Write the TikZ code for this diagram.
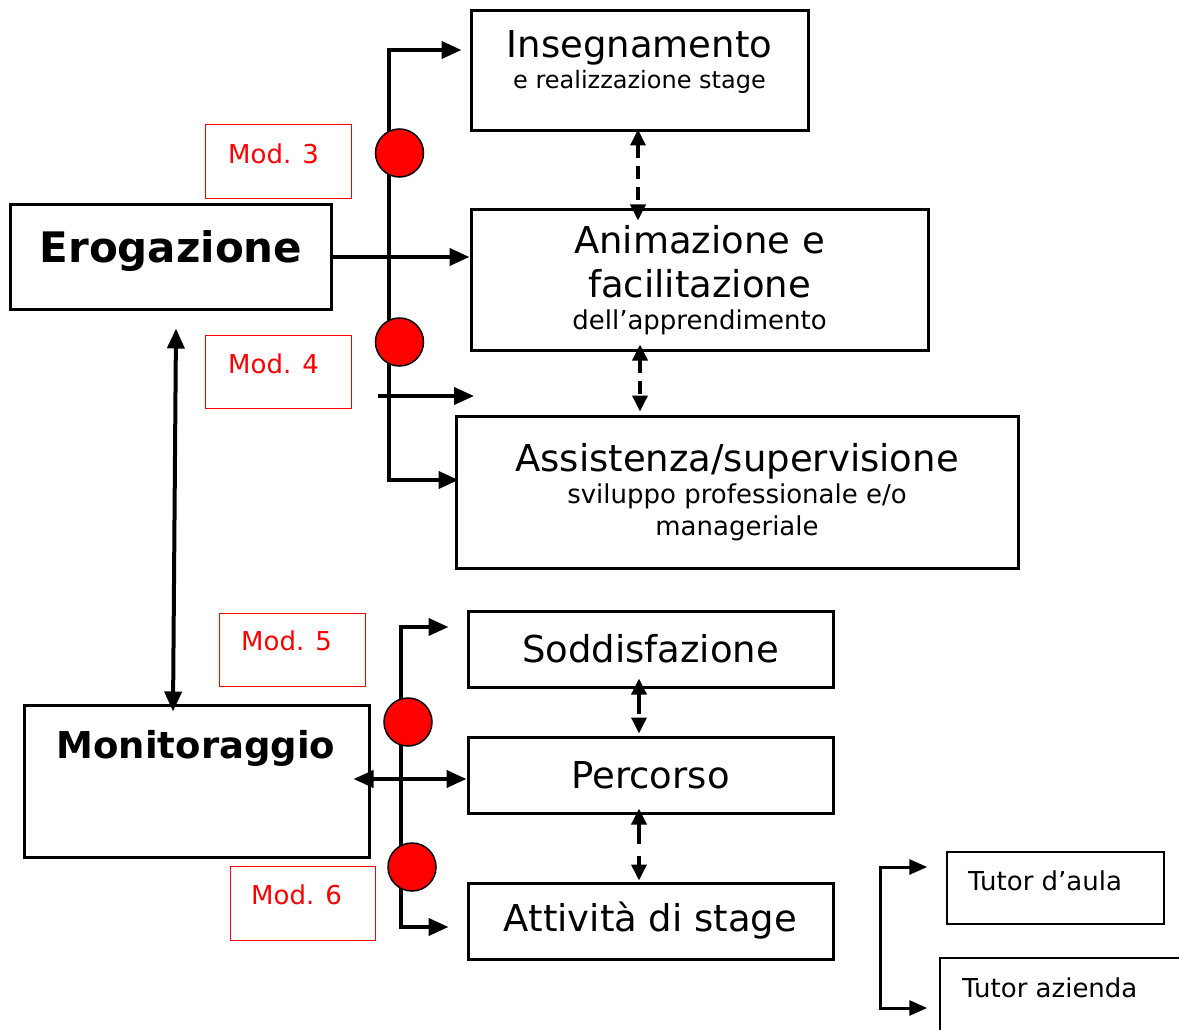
\documentclass[tikz,border=0pt]{standalone}
\usepackage{fontspec}
\setmainfont{DejaVu Sans}
\usetikzlibrary{arrows.meta}

\newcommand{\subtxt}{\fontsize{26}{32}\selectfont}

\begin{document}
\begin{tikzpicture}[x=1pt,y=-1pt,
	box/.style={draw,line width=3pt,inner sep=0pt},
	tbox/.style={draw,line width=1.5pt,inner sep=0pt},
	modbox/.style={draw=red,line width=1pt,inner sep=0pt},
	modtxt/.style={text=red,font=\subtxt,anchor=west,inner sep=0pt},
	main/.style={font=\fontsize{37}{44}\selectfont,align=center},
	bold/.style={font=\fontsize{42}{48}\selectfont\bfseries,anchor=base,inner sep=0pt},
	dot/.style={circle,draw,line width=1.5pt,fill=red,minimum size=48pt,inner sep=0pt},
	bus/.style={line width=4pt,-{Triangle[length=20pt,width=17pt]}},
	dbus/.style={line width=4pt,{Triangle[length=20pt,width=17pt]}-{Triangle[length=20pt,width=17pt]}},
	link/.style={line width=3.5pt,dash pattern=on 13pt off 8pt,{Triangle[length=16pt,width=15pt]}-{Triangle[length=16pt,width=15pt]}},
	link2/.style={line width=3.5pt,dash pattern=on 20pt off 12pt,{Triangle[length=16pt,width=15pt]}-{Triangle[length=16pt,width=15pt]}},
	tlink/.style={line width=3pt,-{Triangle[length=18pt,width=15pt]}}
]
	\clip (0,0) rectangle (1179,1030);

	% erogazione
	\node[box,minimum width=337pt,minimum height=120pt] (ins) at (639.5,71) {};
	\node[main] (ins-t) at (639.5,62) {Insegnamento\\[-13pt]{\fontsize{24}{30}\selectfont e realizzazione stage}};
	\node[box,main,minimum width=457pt,minimum height=140pt] (ani) at (699.5,280)
		{Animazione e\\facilitazione\\[-12pt]{\subtxt dell’apprendimento}};
	\node[box,main,minimum width=562pt,minimum height=152pt] (ass) at (737,492)
		{Assistenza/supervisione\\[-12pt]{\subtxt sviluppo professionale e/o}\\[-12pt]{\subtxt manageriale}};
	\node[box,minimum width=321pt,minimum height=104pt] (ero) at (170.5,257) {};
	\node[bold] (ero-t) at (171,262) {Erogazione};

	% monitoraggio
	\node[box,minimum width=345pt,minimum height=152pt] (mon) at (196.5,781) {};
	\node[bold,font=\fontsize{37}{42}\selectfont\bfseries] (mon-t) at (196,758) {Monitoraggio};
	\node[box,main,minimum width=365pt,minimum height=76pt] (sod) at (650.5,649) {Soddisfazione};
	\node[box,main,minimum width=365pt,minimum height=76pt] (per) at (650.5,775) {Percorso};
	\node[box,main,minimum width=365pt,minimum height=76pt] (att) at (650.5,921) {Attività di stage};

	% tutor
	\node[tbox,minimum width=217pt,minimum height=72pt] (tda) at (1055.5,888) {};
	\node[modtxt,text=black] (tda-t) at (968,881) {Tutor d’aula};
	\node[tbox,minimum width=300pt,minimum height=102pt] (taz) at (1090,1009) {};
	\node[modtxt,text=black] (taz-t) at (962,988) {Tutor azienda};

	% moduli
	\node[modbox,minimum width=146pt,minimum height=74pt] (m3) at (278,162) {};
	\node[modtxt] (m3-t) at (228,154) {Mod. 3};
	\node[modbox,minimum width=146pt,minimum height=73pt] (m4) at (278,371.5) {};
	\node[modtxt] (m4-t) at (228,364) {Mod. 4};
	\node[modbox,minimum width=146pt,minimum height=73pt] (m5) at (292,649.5) {};
	\node[modtxt] (m5-t) at (241,641) {Mod. 5};
	\node[modbox,minimum width=145pt,minimum height=74pt] (m6) at (302.5,903) {};
	\node[modtxt] (m6-t) at (251,895) {Mod. 6};

	% linee
	\coordinate (b1t) at (389,50);
	\coordinate (b1b) at (389,480);
	\draw[bus] (b1b) -- (b1t) -- ([xshift=-8pt]b1t -| ins.west);
	\draw[bus] (b1t) -- (b1b) -- ([xshift=4pt]b1b -| ass.west);
	\draw[bus] ([xshift=-3pt]ero.east) -- (ero.east -| ani.west);
	\coordinate (f1) at (378,396);
	\coordinate (f2) at (474,396);
	\draw[bus] (f1) -- (f2);
	\draw[dbus] ([xshift=5.5pt,yshift=-18pt]ero.south) -- ([xshift=-23.5pt,yshift=-8pt]mon.north);

	\coordinate (b2t) at (401,627);
	\coordinate (b2b) at (401,927);
	\draw[bus] (b2b) -- (b2t) -- ([xshift=-18pt]b2t -| sod.west);
	\draw[bus] (b2t) -- (b2b) -- ([xshift=-18pt]b2b -| att.west);
	\draw[dbus] ([xshift=-17pt,yshift=-4pt]mon.east |- per.west) -- ([yshift=-4pt]per.west);

	\draw[link,shorten <=-3pt,shorten >=-12pt] ([xshift=-1.5pt]ins.south) -- ([xshift=-1.5pt]ins.south |- ani.north);
	\draw[link,shorten <=-7pt,shorten >=3pt] ([xshift=0.5pt]ins.south |- ani.south) -- ([xshift=0.5pt]ins.south |- ass.north);
	\draw[link2,shorten <=-10pt,shorten >=2pt] ([xshift=-11.5pt]sod.south) -- ([xshift=-11.5pt]per.north);
	\draw[link2,shorten <=-6pt,shorten >=1pt] ([xshift=-11.5pt]per.south) -- ([xshift=-11.5pt]att.north);

	\coordinate (tb1) at (880,867);
	\coordinate (tb2) at (880,1008);
	\draw[tlink] (tb2) -- (tb1) -- ([xshift=-19pt]tb1 -| tda.west);
	\draw[tlink] (tb1) -- (tb2) -- ([xshift=-12pt]tb2 -| taz.west);

	% pallini
	\node[dot] (d1) at (399.5,153) {};
	\node[dot] (d2) at (399.5,342) {};
	\node[dot] (d3) at (408,722) {};
	\node[dot] (d4) at (412,867) {};
\end{tikzpicture}
\end{document}
